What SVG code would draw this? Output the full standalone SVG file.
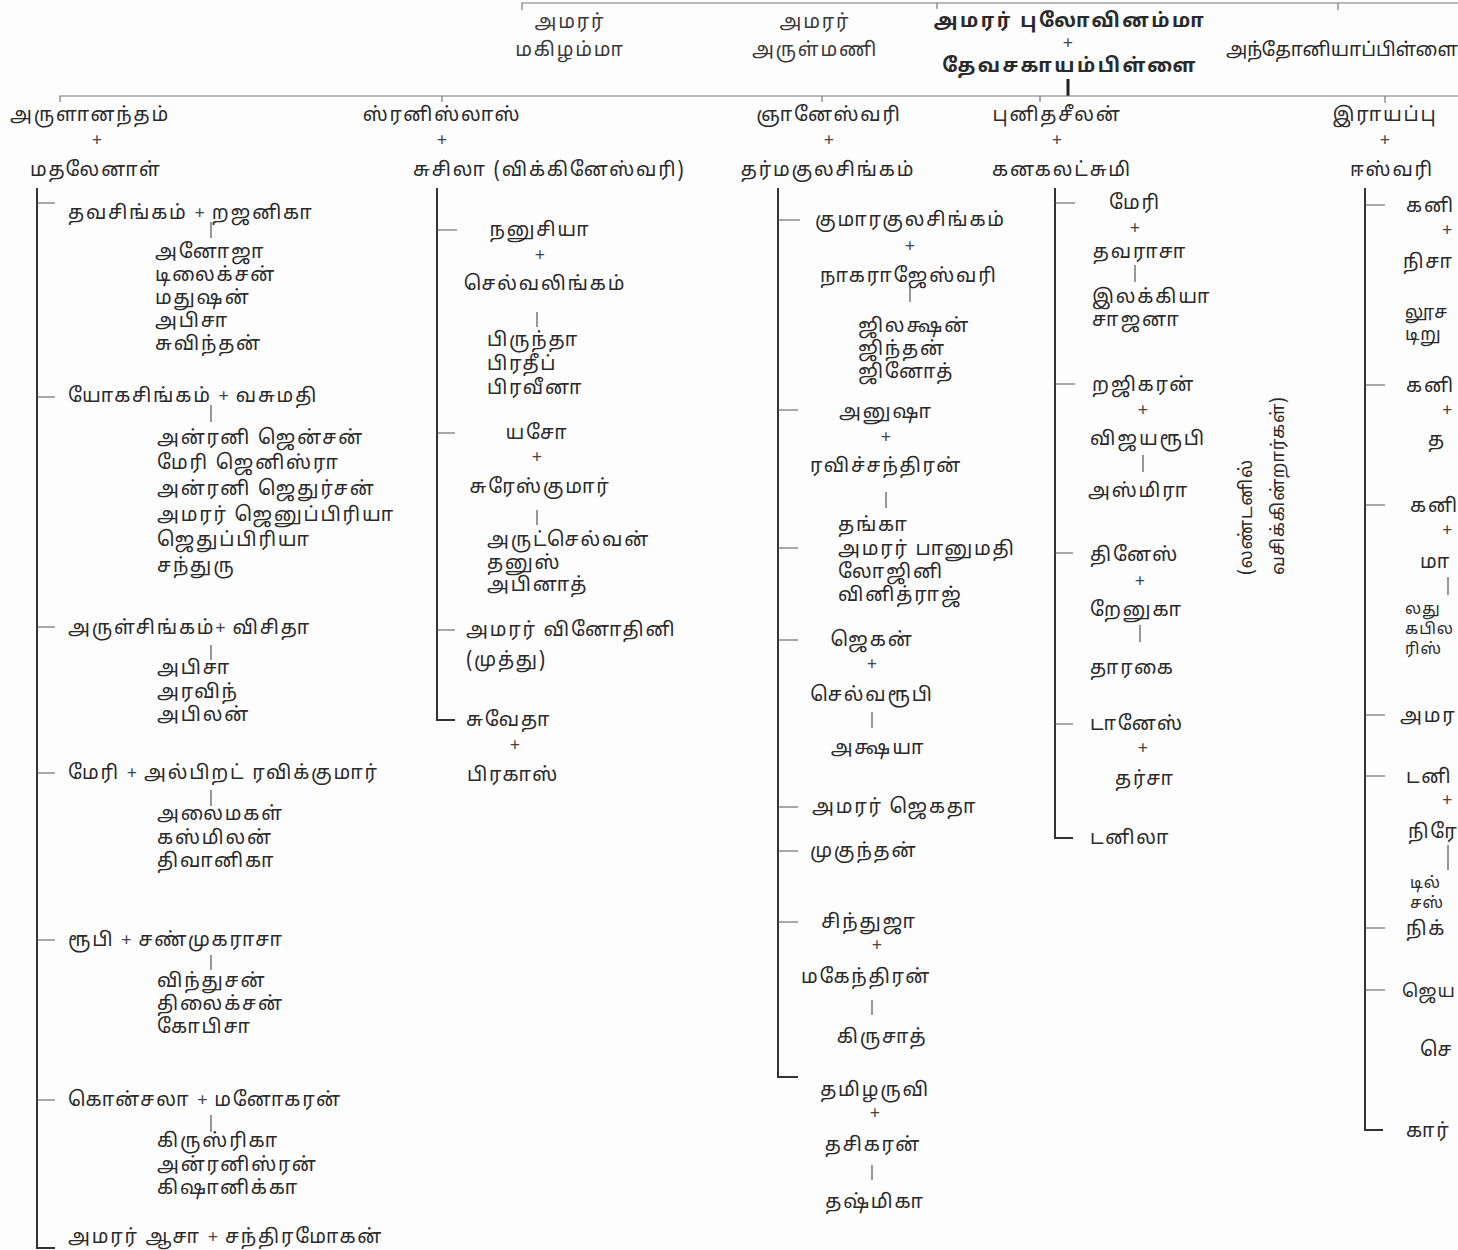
<svg xmlns="http://www.w3.org/2000/svg" width="1458" height="1250" viewBox="0 0 1458 1250">
<style>
text{font-family:"Noto Sans Tamil","Lohit Tamil","Noto Sans","DejaVu Sans",sans-serif;font-size:19.5px;letter-spacing:1.8px;fill:#2a2a2a}
.c{text-anchor:middle}
.b{font-weight:bold;letter-spacing:2.5px}
.l{fill:#3a3a3a}
.p{font-size:18px;fill:#444;letter-spacing:0}
.s{font-size:16px;letter-spacing:1px}
.r{font-size:18px;letter-spacing:0.8px}
.v{stroke:#333;stroke-width:2;fill:none}
.h{stroke:#777;stroke-width:1.2;fill:none}
.t{stroke:#555;stroke-width:1.2;fill:none}
</style>
<rect width="1458" height="1250" fill="#fdfdfd"/>
<g id="connectors">
<path class="h" d="M522,10 V3 H1458 M937,3 V9 M1338,3 V10"/>
<path d="M1068,79 V96" stroke="#222" stroke-width="3"/>
<path class="h" d="M60,102 V96 H1458 M442,96 V102 M822,96 V102 M1040,96 V102 M1385,96 V103"/>
<path class="v" d="M37,188 V1248 H55"/>
<path class="t" d="M37,203 H55 M37,397 H55 M37,627 H55 M37,773 H55 M37,940 H55 M37,1100 H55"/>
<path class="t" d="M211,222 V238 M211,405 V422 M211,645 V660 M211,790 V806 M211,955 V970 M211,1115 V1132"/>
<path class="v" d="M437,188 V720 H455"/>
<path class="t" d="M437,230 H457 M437,433 H455 M437,630 H455 M537,312 V327 M537,510 V525"/>
<path class="v" d="M778,188 V1077 H798"/>
<path class="t" d="M778,220 H800 M778,410 H798 M778,548 H798 M778,640 H798 M778,807 H798 M778,851 H798 M778,922 H798 M910,287 V302 M886,492 V508 M872,712 V728 M872,1000 V1015 M872,1165 V1180"/>
<path class="v" d="M1055,188 V838 H1073"/>
<path class="t" d="M1055,203 H1075 M1055,384 H1075 M1055,553 H1073 M1055,724 H1073 M1135,265 V282 M1143,455 V472 M1140,625 V642"/>
<path class="v" d="M1365,188 V1130 H1383"/>
<path class="t" d="M1365,205 H1385 M1365,385 H1385 M1365,505 H1385 M1365,715 H1385 M1365,776 H1385 M1365,928 H1385 M1365,990 H1385 M1448,577 V595 M1448,845 V870"/>
</g>
<g id="top">
<text class="c l" x="570" y="28">அமரர்</text>
<text class="c l" x="570" y="56">மகிழம்மா</text>
<text class="c l" x="815" y="28">அமரர்</text>
<text class="c l" x="815" y="56">அருள்மணி</text>
<text class="c b" x="1070" y="27">அமரர் புலோவினம்மா</text>
<text class="c p" x="1068" y="49">+</text>
<text class="c b" x="1070" y="72">தேவசகாயம்பிள்ளை</text>
<text x="1226" y="56" style="letter-spacing:0;font-size:19px">அந்தோனியாப்பிள்ளை</text>
</g>
<g id="n-arulanantham">
<text x="10" y="121">அருளானந்தம்</text>
<text class="c p" x="97" y="146">+</text>
<text x="30" y="176">மதலேனாள்</text>
</g>
<g id="n-tavasingam"><text x="68" y="219">தவசிங்கம் <tspan class="p">+</tspan> றஜனிகா</text>
<text x="155" y="258">அனோஜா</text><text x="155" y="281">டிலைக்சன்</text><text x="155" y="304">மதுஷன்</text><text x="155" y="327">அபிசா</text><text x="155" y="350">சுவிந்தன்</text></g>
<g id="n-yogasingam"><text x="68" y="402">யோகசிங்கம் <tspan class="p">+</tspan> வசுமதி</text>
<text x="157" y="444">அன்ரனி ஜென்சன்</text><text x="157" y="469">மேரி ஜெனிஸ்ரா</text><text x="157" y="495">அன்ரனி ஜெதுர்சன்</text><text x="157" y="521">அமரர் ஜெனுப்பிரியா</text><text x="157" y="546">ஜெதுப்பிரியா</text><text x="157" y="572">சந்துரு</text></g>
<g id="n-arulsingam"><text x="68" y="634">அருள்சிங்கம்<tspan class="p">+</tspan> விசிதா</text>
<text x="157" y="674">அபிசா</text><text x="157" y="698">அரவிந்</text><text x="157" y="721">அபிலன்</text></g>
<g id="n-mary1"><text x="68" y="779">மேரி <tspan class="p">+</tspan> அல்பிறட் ரவிக்குமார்</text>
<text x="157" y="820">அலைமகள்</text><text x="157" y="844">கஸ்மிலன்</text><text x="157" y="867">திவானிகா</text></g>
<g id="n-rubi"><text x="68" y="946">ரூபி  <tspan class="p">+</tspan> சண்முகராசா</text>
<text x="157" y="987">விந்துசன்</text><text x="157" y="1010">திலைக்சன்</text><text x="157" y="1033">கோபிசா</text></g>
<g id="n-konsala"><text x="68" y="1106">கொன்சலா <tspan class="p">+</tspan> மனோகரன்</text>
<text x="157" y="1147">கிருஸ்ரிகா</text><text x="157" y="1171">அன்ரனிஸ்ரன்</text><text x="157" y="1194">கிஷானிக்கா</text></g>
<g id="n-asa"><text x="68" y="1243">அமரர் ஆசா <tspan class="p">+</tspan> சந்திரமோகன்</text></g>
<g id="n-stanislas">
<text class="c" x="442" y="121">ஸ்ரனிஸ்லாஸ்</text>
<text class="c p" x="442" y="146">+</text>
<text x="413" y="176">சுசிலா (விக்கினேஸ்வரி)</text>
</g>
<g id="n-nanusiya"><text class="c" x="540" y="236">நனுசியா</text><text class="c p" x="540" y="261">+</text><text class="c" x="545" y="290">செல்வலிங்கம்</text>
<text x="487" y="346">பிருந்தா</text><text x="487" y="370">பிரதீப்</text><text x="487" y="394">பிரவீனா</text></g>
<g id="n-yaso"><text class="c" x="537" y="439">யசோ</text><text class="c p" x="537" y="463">+</text><text class="c" x="540" y="493">சுரேஸ்குமார்</text>
<text x="487" y="546">அருட்செல்வன்</text><text x="487" y="569">தனுஸ்</text><text x="487" y="591">அபினாத்</text></g>
<g id="n-vinothini"><text x="466" y="636">அமரர் வினோதினி</text><text x="466" y="666">(முத்து)</text></g>
<g id="n-suvetha"><text x="466" y="726">சுவேதா</text><text class="c p" x="515" y="751">+</text><text x="467" y="781">பிரகாஸ்</text></g>
<g id="n-gnaneswari">
<text class="c" x="829" y="121">ஞானேஸ்வரி</text>
<text class="c p" x="829" y="146">+</text>
<text class="c" x="828" y="176">தர்மகுலசிங்கம்</text>
</g>
<g id="n-kumarakulasingam"><text x="815" y="226">குமாரகுலசிங்கம்</text><text class="c p" x="910" y="252">+</text><text x="820" y="282">நாகராஜேஸ்வரி</text>
<text x="858" y="332">ஜிலக்ஷன்</text><text x="858" y="355">ஜிந்தன்</text><text x="858" y="378">ஜினோத்</text></g>
<g id="n-anusha"><text class="c" x="886" y="418">அனுஷா</text><text class="c p" x="886" y="443">+</text><text x="810" y="472">ரவிச்சந்திரன்</text>
<text x="838" y="531">தங்கா</text><text x="838" y="555">அமரர் பானுமதி</text><text x="838" y="578">லோஜினி</text><text x="838" y="601">வினித்ராஜ்</text></g>
<g id="n-jegan"><text class="c" x="872" y="646">ஜெகன்</text><text class="c p" x="872" y="670">+</text><text class="c" x="872" y="701">செல்வரூபி</text><text class="c" x="878" y="754">அக்ஷயா</text></g>
<g id="n-jegatha"><text x="812" y="813">அமரர் ஜெகதா</text></g>
<g id="n-mukunthan"><text x="810" y="857">முகுந்தன்</text></g>
<g id="n-sinthuja"><text class="c" x="869" y="928">சிந்துஜா</text><text class="c p" x="877" y="951">+</text><text class="c" x="866" y="983">மகேந்திரன்</text><text class="c" x="882" y="1043">கிருசாத்</text></g>
<g id="n-thamilaruvi"><text class="c" x="875" y="1096">தமிழருவி</text><text class="c p" x="875" y="1119">+</text><text class="c" x="873" y="1151">தசிகரன்</text><text class="c" x="875" y="1208">தஷ்மிகா</text></g>
<g id="n-punithaseelan">
<text class="c" x="1057" y="121">புனிதசீலன்</text>
<text class="c p" x="1057" y="146">+</text>
<text class="c" x="1062" y="176">கனகலட்சுமி</text>
</g>
<g id="n-mary2"><text class="c" x="1135" y="209">மேரி</text><text class="c p" x="1135" y="234">+</text><text class="c" x="1140" y="258">தவராசா</text>
<text x="1092" y="303">இலக்கியா</text><text x="1092" y="326">சாஜனா</text></g>
<g id="n-rajikaran"><text x="1092" y="391">றஜிகரன்</text><text class="c p" x="1143" y="416">+</text><text x="1090" y="445">விஜயரூபி</text><text x="1088" y="497">அஸ்மிரா</text></g>
<g id="n-dinesh"><text x="1090" y="561">தினேஸ்</text><text class="c p" x="1140" y="587">+</text><text x="1090" y="616">றேனுகா</text><text x="1090" y="674">தாரகை</text></g>
<g id="n-danesh"><text x="1090" y="730">டானேஸ்</text><text class="c p" x="1143" y="754">+</text><text x="1115" y="785">தர்சா</text></g>
<g id="n-danila"><text x="1090" y="844">டனிலா</text></g>
<g id="note"><text class="r" transform="translate(1252,575) rotate(-90)">(லண்டனில்</text><text class="r" transform="translate(1284,575) rotate(-90)">வசிக்கின்றார்கள்)</text></g>
<g id="n-rayappu">
<text class="c" x="1385" y="121">இராயப்பு</text>
<text class="c p" x="1385" y="146">+</text>
<text class="c" x="1392" y="176">ஈஸ்வரி</text>
</g>
<g id="n-r1"><text x="1406" y="212">கனி</text><text class="p" x="1442" y="236">+</text><text x="1403" y="268">நிசா</text><text class="r" x="1405" y="318">லூச</text><text class="r" x="1405" y="340">டிறு</text></g>
<g id="n-r2"><text x="1406" y="392">கனி</text><text class="p" x="1442" y="416">+</text><text x="1428" y="446">த</text></g>
<g id="n-r3"><text x="1410" y="512">கனி</text><text class="p" x="1442" y="536">+</text><text x="1420" y="568">மா</text><text class="s" x="1405" y="614">லது</text><text class="s" x="1405" y="634">கபில</text><text class="s" x="1405" y="654">ரிஸ்</text></g>
<g id="n-r4"><text x="1400" y="722">அமர</text></g>
<g id="n-r5"><text x="1406" y="783">டனி</text><text class="p" x="1442" y="806">+</text><text x="1408" y="838">நிரே</text><text class="s" x="1410" y="888">டில்</text><text class="s" x="1410" y="908">சஸ்</text></g>
<g id="n-r6"><text x="1406" y="935">நிக்</text></g>
<g id="n-r7"><text class="r" x="1402" y="997">ஜெய</text><text x="1420" y="1056">செ</text></g>
<g id="n-r8"><text x="1406" y="1137">கார்</text></g>
</svg>
